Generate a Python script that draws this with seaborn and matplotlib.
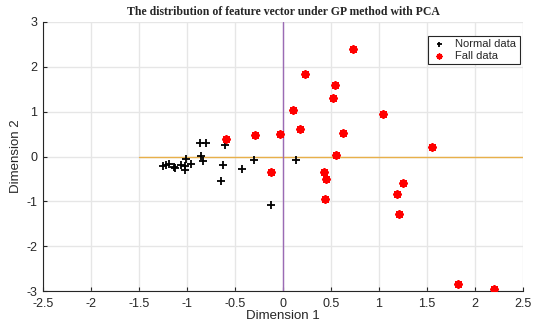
import numpy as np
import pandas as pd
import matplotlib
matplotlib.use("Agg")
import matplotlib.pyplot as plt
import seaborn as sns

normal_x = [-0.86, -0.80, -0.60, -0.85, -0.83, -1.01, -0.96, -1.06, -1.02, -1.02,
            -1.14, -1.19, -1.25, -1.22, -1.12, -0.63, -0.65, -0.43, -0.30, 0.135, -0.12]
normal_y = [0.29, 0.29, 0.25, 0.02, -0.09, -0.05, -0.16, -0.18, -0.22, -0.31,
            -0.24, -0.16, -0.22, -0.19, -0.26, -0.20, -0.55, -0.27, -0.07, -0.07, -1.09]

fall_x = [0.73, 0.23, 0.54, 0.52, 0.10, 1.04, 0.18, -0.29, -0.03, 0.63, 0.55,
          -0.13, 0.43, 0.45, 0.44, 1.25, 1.19, 1.21, 1.55, 1.82, 2.20, -0.59]
fall_y = [2.40, 1.85, 1.60, 1.30, 1.03, 0.95, 0.61, 0.49, 0.51, 0.53, 0.04,
          -0.34, -0.34, -0.50, -0.94, -0.59, -0.83, -1.28, 0.21, -2.85, -2.95, 0.39]

x_ticks = [-2.5, -2, -1.5, -1, -0.5, 0, 0.5, 1, 1.5, 2, 2.5]
y_ticks = [-3, -2, -1, 0, 1, 2, 3]

sns.set_style("whitegrid")
plt.rcParams['font.family'] = ['Liberation Sans', 'DejaVu Sans']

fig = plt.figure(figsize=(5.4, 3.27), dpi=100)
ax = fig.add_axes([43/540, 1-291/327, 480/540, 269/327])

normal_df = pd.DataFrame({"x": normal_x, "y": normal_y})
fall_df = pd.DataFrame({"x": fall_x, "y": fall_y})

# reference lines
ax.plot([-1.5, 2.5], [0, 0], color="#e8b04a", lw=1.0, zorder=1)
ax.plot([0, 0], [-3, 3], color="#9b6bb5", lw=1.0, zorder=1)

sns.scatterplot(data=normal_df, x="x", y="y", ax=ax, marker="+", color="black",
                s=36, linewidth=1.3, label="Normal data", zorder=3)
sns.scatterplot(data=fall_df, x="x", y="y", ax=ax, marker=(8, 2, 0), color="red",
                s=24, linewidth=1.6, label="Fall data", zorder=3)

ax.set_xlim(-2.5, 2.5)
ax.set_ylim(-3, 3)
ax.set_xticks(x_ticks)
ax.set_xticklabels([f"{t:g}" for t in x_ticks])
ax.set_yticks(y_ticks)
ax.set_yticklabels([f"{t:g}" for t in y_ticks])

ax.grid(True, color="#e6e6e6", lw=1.0)
ax.set_axisbelow(True)
for s in ["top", "right"]:
    ax.spines[s].set_visible(False)
for s in ["left", "bottom"]:
    ax.spines[s].set_visible(True)
    ax.spines[s].set_color("#262626")
    ax.spines[s].set_linewidth(0.8)
ax.tick_params(axis="both", direction="in", length=3, width=0.8, colors="#262626",
               labelsize=9, left=True, bottom=True)
ax.tick_params(axis="x", pad=5)
ax.tick_params(axis="y", pad=4)

ax.set_xlabel("Dimension 1", fontsize=9.5, color="#262626", labelpad=0)
ax.set_ylabel("Dimension 2", fontsize=9.5, color="#262626", labelpad=3)
ax.set_title("The distribution of feature vector under GP method with PCA",
             fontsize=8.5, fontweight="bold", family=["Liberation Serif", "DejaVu Serif"],
             pad=5)

leg = ax.legend(loc="upper right", fontsize=8, frameon=True, fancybox=False,
                edgecolor="#262626", framealpha=1, borderpad=0.3, handletextpad=0.8,
                handlelength=1.4, labelspacing=0.15, borderaxespad=0.0,
                bbox_to_anchor=(0.993, 0.948), markerscale=0.6)
leg.get_frame().set_linewidth(0.8)

fig.savefig("out.png", dpi=100)
